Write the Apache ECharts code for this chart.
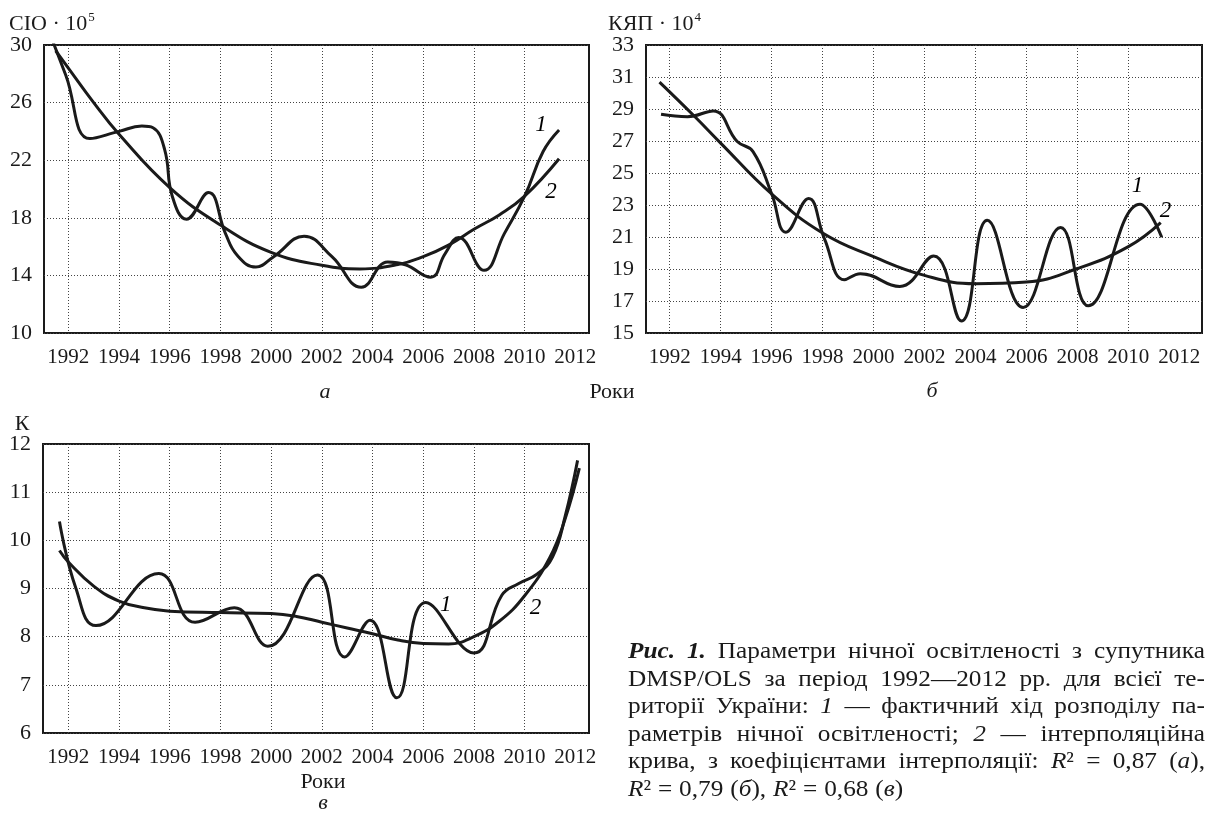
<!DOCTYPE html>
<html>
<head>
<meta charset="utf-8">
<script src="https://cdn.jsdelivr.net/npm/echarts@6/dist/echarts.min.js"></script>
<style>
html, body { margin: 0; background: #fff; }
#chart { width: 1210px; height: 815px; }
</style>
</head>
<body>
<div id="chart"></div>
<script>
const FONT = '"Liberation Serif", "DejaVu Serif", serif';
const INK = '#1a1a1a';

// year ticks (labels go to 2012, grid lines stop at 2010)
const yearLabels = [1992, 1994, 1996, 1998, 2000, 2002, 2004, 2006, 2008, 2010, 2012];
const yearGrid = [1992, 1994, 1996, 1998, 2000, 2002, 2004, 2006, 2008, 2010];

// а — СІО·10^5
const sioTicks = [10, 14, 18, 22, 26, 30];
const sioFactYears = [1991.4, 1991.9, 1992.85, 1994.0, 1994.9, 1995.34, 1995.8, 1996.1, 1996.66, 1997.53, 1998.2, 1998.66, 1999.4, 2000.1, 2001.3, 2002.4, 2003.56, 2004.6, 2005.3, 2006.3, 2006.86, 2007.4, 2008.4, 2009.2, 2010.0, 2010.73, 2011.36];
const sioFactValues = [30.2, 27.9, 23.5, 24.0, 24.37, 24.25, 22.74, 19.5, 17.9, 19.75, 16.9, 15.4, 14.58, 15.3, 16.72, 15.3, 13.18, 14.93, 14.74, 13.88, 15.5, 16.63, 14.35, 16.9, 19.5, 22.6, 24.1];
const sioFitYears = [1991.5, 1992, 1993, 1994, 1996, 1998, 2000, 2002, 2003.5, 2005, 2006, 2007, 2008, 2009, 2010, 2011.36];
const sioFitValues = [29.6, 28.4, 26.0, 23.8, 20.1, 17.5, 15.6, 14.7, 14.45, 14.75, 15.3, 16.1, 17.2, 18.2, 19.5, 22.1];

// б — КЯП·10^4
const kyapTicks = [15, 17, 19, 21, 23, 25, 27, 29, 31, 33];
const kyapFactYears = [1991.66, 1992.7, 1993.71, 1994.65, 1995.27, 1996.0, 1996.56, 1997.45, 1998.07, 1998.85, 1999.48, 2001.03, 2002.36, 2003.45, 2004.46, 2005.87, 2007.34, 2008.43, 2010.46, 2011.31];
const kyapFactValues = [28.67, 28.52, 28.88, 26.97, 26.34, 23.7, 21.3, 23.4, 20.9, 18.33, 18.71, 17.91, 19.81, 15.75, 22.04, 16.59, 21.6, 16.7, 23.05, 20.98];
const kyapFitYears = [1991.6, 1993, 1994, 1996, 1998, 2000, 2002, 2004, 2006, 2008, 2010, 2011.27];
const kyapFitValues = [30.68, 28.5, 26.87, 23.69, 21.25, 19.77, 18.6, 18.08, 18.18, 19.03, 20.4, 21.9];

// в — К
const kTicks = [6, 7, 8, 9, 10, 11, 12];
const kFactYears = [1991.65, 1992.3, 1993.09, 1995.57, 1997.0, 1998.55, 1999.87, 2001.83, 2002.9, 2003.9, 2004.96, 2006.1, 2008.0, 2009.1, 2009.75, 2010.5, 2011.1, 2011.6, 2012.09];
const kFactValues = [10.39, 9.0, 8.23, 9.31, 8.3, 8.6, 7.8, 9.28, 7.58, 8.34, 6.73, 8.71, 7.66, 8.86, 9.1, 9.3, 9.65, 10.5, 11.66];
const kFitYears = [1991.65, 1992, 1993, 1994, 1995, 1996, 1998, 2000, 2001, 2002, 2003, 2004, 2005, 2006, 2007, 2008, 2009, 2010, 2011, 2011.6, 2012.16];
const kFitValues = [9.79, 9.55, 9.05, 8.74, 8.6, 8.53, 8.5, 8.48, 8.42, 8.3, 8.18, 8.06, 7.93, 7.86, 7.85, 8.0, 8.32, 8.85, 9.65, 10.45, 11.5];

// curve numbers "1" / "2"
const curveTags = ['1', '2'];
const sioTagAt = [[2010.65, 24.44], [2011.04, 19.8]];
const kyapTagAt = [[2010.36, 24.2], [2011.46, 22.6]];
const kTagAt = [[2006.89, 8.66], [2010.43, 8.6]];

const captionLines = [
  '**Рис.** **1.** Параметри нічної освітленості з супутника',
  'DMSP/OLS за період 1992—2012 рр. для всієї те-',
  'риторії України: *1* — фактичний хід розподілу па-',
  'раметрів нічної освітленості; *2* — інтерполяційна',
  'крива, з коефіцієнтами інтерполяції: *R*² = 0,87 (*а*),',
  '*R*² = 0,79 (*б*), *R*² = 0,68 (*в*)'
];

let chart = echarts.init(document.getElementById('chart'));

function zip(xs, ys) {
  return xs.map((x, i) => [x, ys[i]]);
}

let dots = { type: [1, 2], color: '#444', width: 1 };

function xAxisFor(gi, min, max) {
  return {
    type: 'value', gridIndex: gi, min: min, max: max,
    axisLine: { show: false },
    axisTick: { show: false, customValues: yearGrid },
    axisLabel: {
      customValues: yearLabels, formatter: v => String(v),
      fontFamily: FONT, fontSize: 21, color: INK, margin: 14
    },
    splitLine: { show: true, lineStyle: dots }
  };
}

function yAxisFor(gi, ticks) {
  return {
    type: 'value', gridIndex: gi, min: ticks[0], max: ticks[ticks.length - 1],
    axisLine: { show: false },
    axisTick: { show: false, customValues: ticks },
    axisLabel: { customValues: ticks, fontFamily: FONT, fontSize: 22, color: INK, margin: 12 },
    splitLine: { show: true, lineStyle: dots }
  };
}

function curve(gi, xs, ys) {
  return {
    type: 'line', xAxisIndex: gi, yAxisIndex: gi,
    data: zip(xs, ys), smooth: 0.45, showSymbol: false, clip: true,
    lineStyle: { color: INK, width: 3 }, silent: true
  };
}

function tags(gi, at) {
  return {
    type: 'scatter', xAxisIndex: gi, yAxisIndex: gi, symbolSize: 0, silent: true,
    itemStyle: { opacity: 1 },
    data: at.map((p, i) => ({ value: p, name: curveTags[i] })),
    label: {
      show: true, position: 'inside', formatter: '{b}',
      fontFamily: FONT, fontStyle: 'italic', fontSize: 23, color: '#000'
    }
  };
}

// caption, justified word by word; words are stretched a bit to get the wide book face
const CAP_SIZE = 23;
const CAP_STRETCH = 1.1;
const capLeft = 628, capRight = 1205, capTop = 652, capStep = 27.6;
const measureCtx = document.createElement('canvas').getContext('2d');
function fontOf(kind) {
  let st = kind === 'n' ? '' : 'italic ';
  let wt = kind === 'b' ? 'bold ' : '';
  return st + wt + CAP_SIZE + 'px ' + FONT;
}
function parseWord(w) {
  return w.split(/(\*\*[^*]+\*\*|\*[^*]+\*)/).filter(s => s).map(s => {
    if (s.startsWith('**')) return [s.slice(2, -2), 'b'];
    if (s.startsWith('*')) return [s.slice(1, -1), 'i'];
    return [s, 'n'];
  });
}
const capRich = {
  n: { fontFamily: FONT, fontSize: CAP_SIZE, fill: INK },
  i: { fontFamily: FONT, fontSize: CAP_SIZE, fontStyle: 'italic', fill: INK },
  b: { fontFamily: FONT, fontSize: CAP_SIZE, fontStyle: 'italic', fontWeight: 'bold', fill: INK }
};
let captionEls = [];
captionLines.forEach((line, li) => {
  let words = line.split(' ').map(parseWord);
  let widths = words.map(segs => CAP_STRETCH * segs.reduce((s, g) => {
    measureCtx.font = fontOf(g[1]);
    return s + measureCtx.measureText(g[0]).width;
  }, 0));
  let total = widths.reduce((a, b) => a + b, 0);
  let last = li === captionLines.length - 1;
  let gap = last ? CAP_SIZE * 0.3 : (capRight - capLeft - total) / (words.length - 1);
  let x = capLeft;
  words.forEach((segs, wi) => {
    captionEls.push({
      type: 'text', x: x, y: capTop + li * capStep, scaleX: CAP_STRETCH, silent: true,
      style: {
        text: segs.map(g => '{' + g[1] + '|' + g[0] + '}').join(''),
        rich: capRich, verticalAlign: 'middle', align: 'left'
      }
    });
    x += widths[wi] + gap;
  });
});

function plainText(x, y, text, extra) {
  return {
    type: 'text', x: x, y: y, silent: true,
    style: Object.assign({ text: text, fontFamily: FONT, fontSize: 22, fill: INK, verticalAlign: 'middle', align: 'center' }, extra || {})
  };
}

function axisName(x, y, name, power) {
  return {
    type: 'text', x: x, y: y, silent: true,
    style: {
      text: '{m|' + name + '}{s|' + power + '}', verticalAlign: 'middle',
      rich: {
        m: { fontFamily: FONT, fontSize: 22, fill: INK },
        s: { fontFamily: FONT, fontSize: 13, fill: INK, verticalAlign: 'top', padding: [0, 0, 12, 1] }
      }
    }
  };
}

option = {
  animation: false,
  backgroundColor: '#fff',
  grid: [
    { left: 44, top: 45, width: 545, height: 288, show: true, borderColor: INK, borderWidth: 2, backgroundColor: 'transparent' },
    { left: 646, top: 45, width: 556, height: 288, show: true, borderColor: INK, borderWidth: 2, backgroundColor: 'transparent' },
    { left: 43, top: 444, width: 546, height: 289, show: true, borderColor: INK, borderWidth: 2, backgroundColor: 'transparent' }
  ],
  xAxis: [
    xAxisFor(0, 1991.04, 2012.54),
    xAxisFor(1, 1991.07, 2012.89),
    xAxisFor(2, 1991.0, 2012.54)
  ],
  yAxis: [
    yAxisFor(0, sioTicks),
    yAxisFor(1, kyapTicks),
    yAxisFor(2, kTicks)
  ],
  series: [
    curve(0, sioFactYears, sioFactValues),
    curve(0, sioFitYears, sioFitValues),
    curve(1, kyapFactYears, kyapFactValues),
    curve(1, kyapFitYears, kyapFitValues),
    curve(2, kFactYears, kFactValues),
    curve(2, kFitYears, kFitValues),
    tags(0, sioTagAt),
    tags(1, kyapTagAt),
    tags(2, kTagAt)
  ],
  graphic: [
    axisName(9, 24, 'СІО · 10', '5'),
    axisName(608, 24, 'КЯП · 10', '4'),
    plainText(22, 424, 'К'),
    plainText(325, 392, 'а', { fontStyle: 'italic' }),
    plainText(612, 392, 'Роки'),
    plainText(932, 391, 'б', { fontStyle: 'italic' }),
    plainText(323, 782, 'Роки'),
    plainText(323, 803, 'в', { fontStyle: 'italic' })
  ].concat(captionEls)
};

chart.setOption(option, true);
</script>
</body>
</html>
